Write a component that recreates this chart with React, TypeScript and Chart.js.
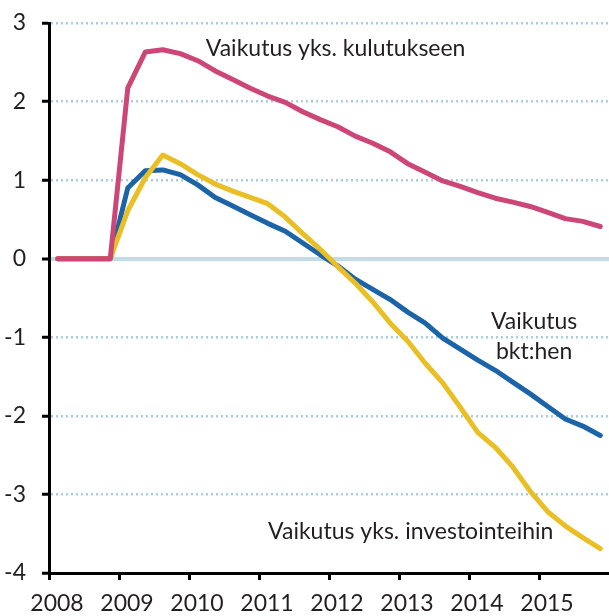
import React, { useEffect, useRef } from "react";
import { Chart, registerables } from "chart.js";

Chart.register(...registerables);

// Quarterly observations (mid-quarter), 2008Q1 .. 2015Q4
const quarters: number[] = [
  2008.125, 2008.375, 2008.625, 2008.875,
  2009.125, 2009.375, 2009.625, 2009.875,
  2010.125, 2010.375, 2010.625, 2010.875,
  2011.125, 2011.375, 2011.625, 2011.875,
  2012.125, 2012.375, 2012.625, 2012.875,
  2013.125, 2013.375, 2013.625, 2013.875,
  2014.125, 2014.375, 2014.625, 2014.875,
  2015.125, 2015.375, 2015.625, 2015.875,
];

const consumption: number[] = [
  0, 0, 0, 0,
  2.17, 2.63, 2.66, 2.61,
  2.52, 2.39, 2.28, 2.17,
  2.07, 1.99, 1.87, 1.77,
  1.68, 1.56, 1.47, 1.36,
  1.21, 1.10, 0.99, 0.92,
  0.84, 0.77, 0.72, 0.665,
  0.59, 0.51, 0.475, 0.41,
];

const gdp: number[] = [
  0, 0, 0, 0,
  0.90, 1.12, 1.13, 1.07,
  0.94, 0.78, 0.67, 0.56,
  0.45, 0.35, 0.20, 0.05,
  -0.09, -0.26, -0.39, -0.52,
  -0.68, -0.82, -1.01, -1.15,
  -1.29, -1.42, -1.57, -1.72,
  -1.88, -2.04, -2.13, -2.25,
];

const investment: number[] = [
  0, 0, 0, 0,
  0.61, 1.03, 1.32, 1.21,
  1.07, 0.95, 0.86, 0.78,
  0.70, 0.53, 0.32, 0.12,
  -0.10, -0.31, -0.55, -0.82,
  -1.05, -1.33, -1.58, -1.89,
  -2.21, -2.40, -2.65, -2.96,
  -3.22, -3.40, -3.55, -3.69,
];

const yearTicks: number[] = [2008, 2009, 2010, 2011, 2012, 2013, 2014, 2015];

const seriesLabels = {
  consumption: "Vaikutus yks. kulutukseen",
  gdp: ["Vaikutus", "bkt:hen"],
  investment: "Vaikutus yks. investointeihin",
};

const FONT = "Lato, 'DejaVu Sans', sans-serif";
const TEXT = "#231f20";

const annotationPlugin = {
  id: "seriesLabels",
  afterDatasetsDraw(chart: any) {
    const { ctx, scales } = chart;
    const x = scales.x;
    const y = scales.y;
    ctx.save();
    ctx.fillStyle = TEXT;
    ctx.font = `23px ${FONT}`;
    ctx.textBaseline = "middle";
    ctx.textAlign = "left";
    ctx.fillText(seriesLabels.consumption, x.getPixelForValue(2010.24), y.getPixelForValue(2.68));
    ctx.fillText(seriesLabels.investment, x.getPixelForValue(2011.13), y.getPixelForValue(-3.47));
    ctx.textAlign = "center";
    ctx.fillText(seriesLabels.gdp[0], x.getPixelForValue(2014.93), y.getPixelForValue(-0.8));
    ctx.fillText(seriesLabels.gdp[1], x.getPixelForValue(2014.93), y.getPixelForValue(-1.18));
    ctx.restore();
  },
};

export default function App() {
  const ref = useRef<HTMLCanvasElement | null>(null);

  useEffect(() => {
    if (!ref.current) return;
    const mk = (data: number[]) => quarters.map((q, i) => ({ x: q, y: data[i] }));
    const lineStyle = {
      pointRadius: 0,
      borderWidth: 5,
      tension: 0,
      borderJoinStyle: "round" as const,
      borderCapStyle: "round" as const,
      fill: false,
    };
    const chart = new Chart(ref.current, {
      type: "line",
      data: {
        datasets: [
          { label: seriesLabels.consumption, data: mk(consumption), borderColor: "#cc4677", ...lineStyle },
          { label: seriesLabels.investment, data: mk(investment), borderColor: "#e9bf25", ...lineStyle },
          { label: "Vaikutus bkt:hen", data: mk(gdp), borderColor: "#1b64a8", ...lineStyle },
        ],
      },
      options: {
        animation: false,
        responsive: false,
        layout: { padding: { top: 23, right: 0, left: 0, bottom: 0 } },
        plugins: { legend: { display: false }, tooltip: { enabled: false } },
        scales: {
          x: {
            type: "linear",
            min: 2008,
            max: 2016,
            afterBuildTicks: (scale: any) => {
              scale.ticks = yearTicks.map((v) => ({ value: v }));
            },
            afterFit: (scale: any) => {
              scale.height = 43;
              scale.paddingLeft = 0;
              scale.paddingRight = 0;
            },
            ticks: {
              color: TEXT,
              font: { family: FONT, size: 23 },
              labelOffset: 8,
              padding: 10,
              maxRotation: 0,
              autoSkip: false,
              callback: (v: any) => String(v),
            },
            grid: {
              drawOnChartArea: false,
              drawTicks: true,
              tickLength: 7,
              tickColor: "#000",
              tickWidth: 3,
            },
            border: { display: true, color: "#000", width: 3 },
          },
          y: {
            type: "linear",
            min: -4,
            max: 3,
            afterFit: (scale: any) => {
              scale.width = 49;
              scale.paddingTop = 0;
              scale.paddingBottom = 0;
            },
            ticks: {
              stepSize: 1,
              color: TEXT,
              font: { family: FONT, size: 23 },
              padding: 16,
            },
            grid: {
              color: (c: any) => (c.tick && c.tick.value === 0 ? "#c2dce6" : "#a9cedc"),
              lineWidth: (c: any) => (c.tick && c.tick.value === 0 ? 4 : 2.5),
              drawTicks: true,
              tickLength: 7,
              tickColor: "#000",
              tickWidth: 3,
            },
            border: {
              display: true,
              color: "#000",
              width: 3,
              dash: (c: any) => (c.tick && c.tick.value === 0 ? [] : [2, 3]),
            },
          },
        },
      },
      plugins: [annotationPlugin],
    } as any);
    return () => chart.destroy();
  }, []);

  return (
    <div style={{ position: "fixed", left: 0, top: 0, width: 609, height: 616, background: "#fff" }}>
      <canvas ref={ref} width={609} height={616} style={{ display: "block" }} />
    </div>
  );
}
